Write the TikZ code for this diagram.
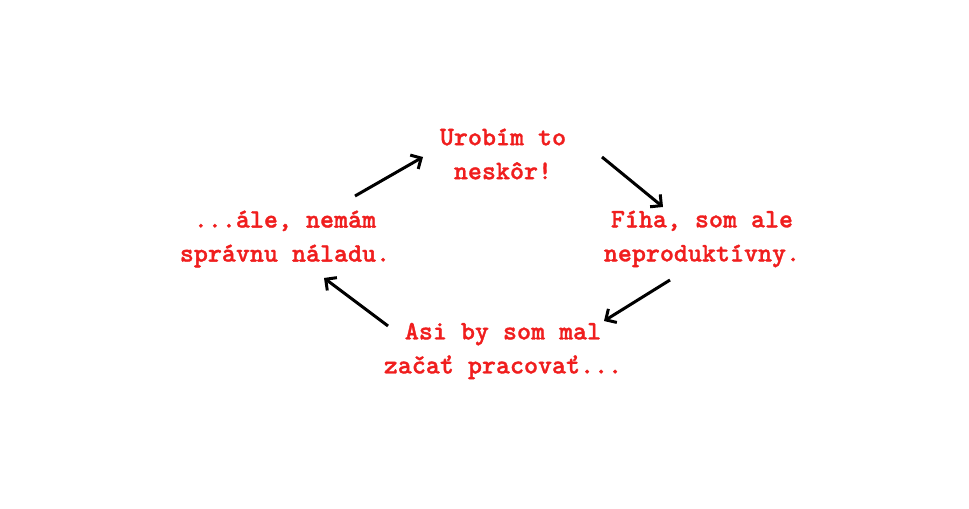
\documentclass[tikz,border=0pt]{standalone}
\usepackage{fontspec}
\setmonofont{lmmonolt10-regular.otf}[BoldFont=lmmonolt10-bold.otf,BoldFeatures={FakeBold=1.2}]
\usetikzlibrary{arrows.meta}
\definecolor{txtred}{RGB}{240,30,30}
\begin{document}
\begin{tikzpicture}[x=1bp,y=-1bp,
  lbl/.style={text=txtred,font=\ttfamily\bfseries\fontsize{26.7bp}{34bp}\selectfont,align=center,inner sep=0pt},
  conn/.style={draw=black,line width=3bp,-{Straight Barb[length=8bp,width=16bp,line width=3bp]}}]
\useasboundingbox[fill=white] (0,0) rectangle (969,509);
\node[lbl] (top) at (503,154) {Urobím to\\neskôr!};
\node[lbl] (right) at (702,239) {Fíha, som ale\\neproduktívny.};
\node[lbl] (bottom) at (503,351) {Asi by som mal\\začať pracovať...};
\node[lbl] (left) at (285,239) {...ále, nemám\\správnu náladu.};
\draw[conn] ([shift={(70,-43)}]left.center) -- ([shift={(-80,3)}]top.center);
\draw[conn] ([shift={(99,3)}]top.center) -- ([shift={(-39,-32)}]right.center);
\draw[conn] ([shift={(-32,41)}]right.center) -- ([shift={(101,-30)}]bottom.center);
\draw[conn] ([shift={(-115,-25)}]bottom.center) -- ([shift={(39,39)}]left.center);
\end{tikzpicture}
\end{document}
